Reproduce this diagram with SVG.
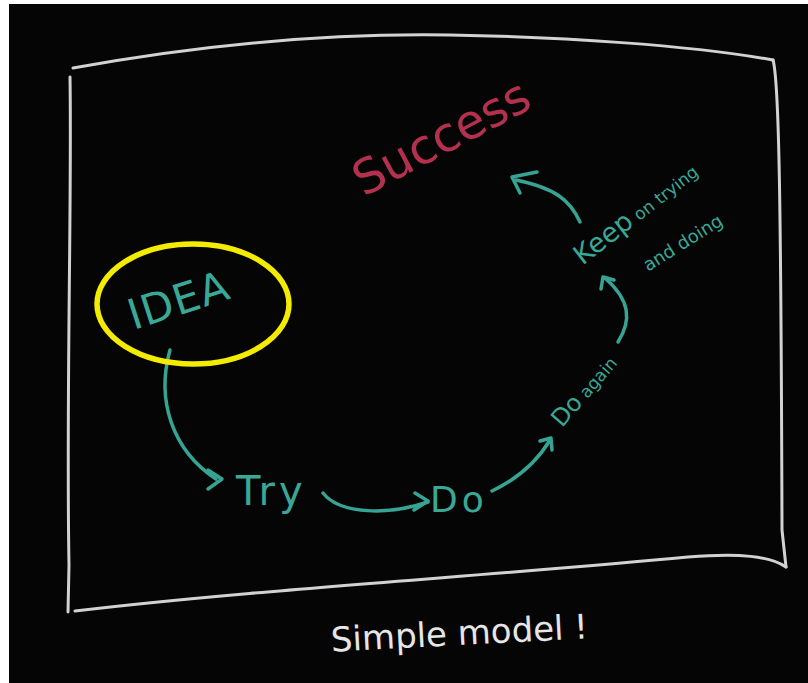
<svg xmlns="http://www.w3.org/2000/svg" width="808" height="683" viewBox="0 0 808 683">
<style>
.frame{fill:none;stroke:#d2d2d2;stroke-width:3;stroke-linecap:round;stroke-linejoin:round}
.conn{fill:none;stroke:#36a393;stroke-width:3.5;stroke-linecap:round;stroke-linejoin:round}
.teal{fill:#3aa897;font-family:"DejaVu Sans","Liberation Sans",sans-serif}
.pink{fill:#b3304f;font-family:"DejaVu Sans","Liberation Sans",sans-serif}
.white{fill:#e6e6e6;font-family:"DejaVu Sans","Liberation Sans",sans-serif}
</style>
<rect x="0" y="0" width="808" height="683" fill="#ffffff"/>
<rect x="9" y="4" width="799" height="679" fill="#050505"/>
<g id="frame">
<path class="frame" d="M73,68 C200,45 330,33 450,35 C560,37 690,45 773,60"/>
<path class="frame" d="M773,60 C779,80 781,200 782,530 L786,567"/>
<path class="frame" d="M75,611 C250,590 500,575 688,557 C740,553 770,556 786,567"/>
<path class="frame" d="M70,77 C72,200 66,400 69,565 L68,612"/>
</g>
<g id="connectors">
<path class="conn" d="M170,350 C156,400 172,450 216,479"/>
<path class="conn" d="M208,470 L222,479 L208,489"/>
<path class="conn" d="M323,493 C340,515 390,515 428,502"/>
<path class="conn" d="M415,493 L428,501 L414,510"/>
<path class="conn" d="M492,491 C515,480 535,465 550,440"/>
<path class="conn" d="M540,441 L551,438 L552,450"/>
<path class="conn" d="M618,342 C632,320 630,300 605,278"/>
<path class="conn" d="M601,289 L603,277 L614,280"/>
<path class="conn" d="M580,222 C570,200 555,188 516,180"/>
<path class="conn" d="M537,172 L512,177 L520,193"/>
</g>
<g id="idea">
<ellipse cx="193" cy="304" rx="96" ry="60" fill="none" stroke="#f3eb00" stroke-width="5.5"/>
<text class="teal" transform="translate(183,314) rotate(-18)" x="0" y="0" font-size="42" text-anchor="middle" letter-spacing="1">IDEA</text>
</g>
<g id="success">
<text class="pink" transform="translate(449,152) rotate(-28)" x="0" y="0" font-size="48" text-anchor="middle">Success</text>
</g>
<g id="keep">
<text class="teal" transform="translate(641,220) rotate(-38)" x="0" y="0" text-anchor="middle"><tspan font-size="27">Keep</tspan><tspan font-size="17"> on trying</tspan></text>
<text class="teal" transform="translate(686,248) rotate(-32)" x="0" y="0" font-size="18" text-anchor="middle">and  doing</text>
</g>
<g id="doagain">
<text class="teal" transform="translate(590,396) rotate(-49)" x="0" y="0" text-anchor="middle"><tspan font-size="24">Do</tspan><tspan font-size="17"> again</tspan></text>
</g>
<g id="try">
<text class="teal" x="236" y="505" font-size="40" letter-spacing="4">Try</text>
</g>
<g id="do">
<text class="teal" x="430" y="512" font-size="36" letter-spacing="4">Do</text>
</g>
<g id="caption">
<text class="white" transform="translate(460,645) rotate(-3)" x="0" y="0" font-size="34" text-anchor="middle">Simple model !</text>
</g>
</svg>
